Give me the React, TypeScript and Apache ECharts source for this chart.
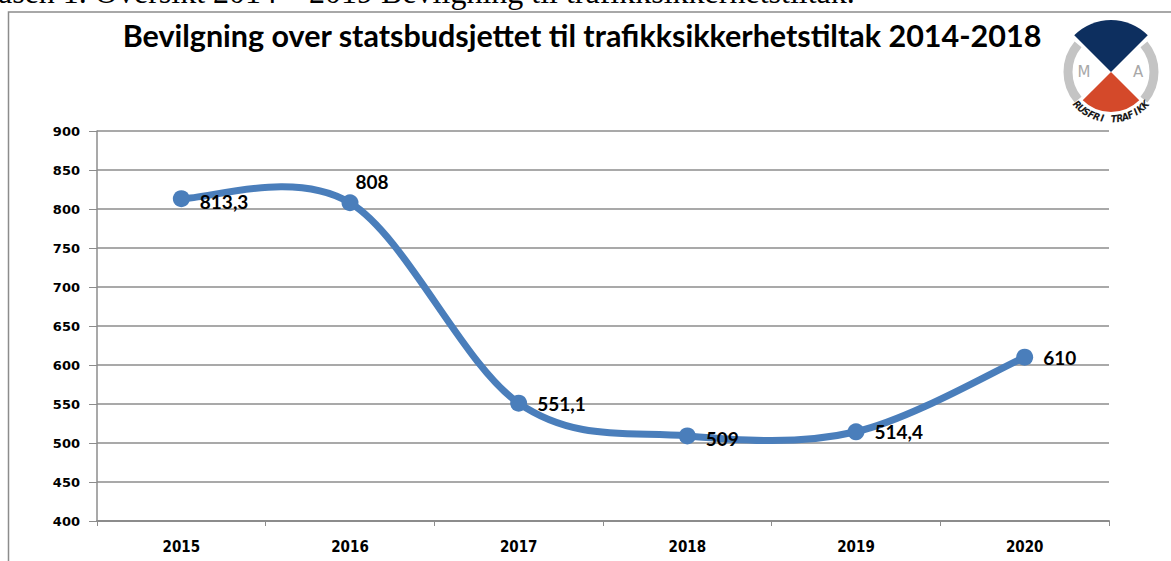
import React, { useEffect, useRef } from "react";
import * as echarts from "echarts";

const years = ["2015", "2016", "2017", "2018", "2019", "2020"];
const values = [813.3, 808, 551.1, 509, 514.4, 610];
const yTicks = { min: 400, max: 900, interval: 50 };
const titleText = "Bevilgning over statsbudsjettet til trafikksikkerhetstiltak 2014-2018";
const captionText = "asen 1. Oversikt 2014 – 2019 Bevilgning til trafikksikkerhetstiltak.";
const logoText = "RUSFRI TRAFIKK";

const LINE_COLOR = "#4a7ebb";

export default function App() {
  const ref = useRef<HTMLDivElement>(null);
  useEffect(() => {
    document.body.style.margin = "0";
    if (!ref.current) return;
    const chart = echarts.init(ref.current, undefined, { renderer: "svg" });

    const cx = 1111, cy = 72;
    const letters: any[] = [];
    const chars = logoText.split("");
    const a0 = 136, a1 = 44;
    chars.forEach((ch, i) => {
      const deg = a0 + (a1 - a0) * (i / (chars.length - 1));
      const t = (deg * Math.PI) / 180;
      const r = 47;
      letters.push({
        type: "text",
        x: cx + r * Math.cos(t),
        y: cy + r * Math.sin(t),
        rotation: -((deg - 90) * Math.PI) / 180,
        style: {
          text: ch,
          fill: "#1a1a1a",
          font: "italic bold 10px 'DejaVu Sans Condensed', 'DejaVu Sans'",
          align: "center",
          verticalAlign: "middle",
        },
        z: 20,
      });
    });

    const dataItems = values.map((v, i) => {
      if (i === 1) {
        return {
          value: v,
          label: { position: "top", offset: [22, 2], distance: 5 },
        };
      }
      if (i === 0 || i === 3) {
        return { value: v, label: { offset: [0, 3] } };
      }
      return { value: v };
    });

    const n = values.length;
    const renderCurve = (params: any, api: any) => {
      const i = params.dataIndex;
      if (i >= n - 1) return null;
      const p = (k: number) => {
        const kk = Math.max(0, Math.min(n - 1, k));
        return api.coord([kk, values[kk]]);
      };
      const P0 = p(i - 1), P1 = p(i), P2 = p(i + 1), P3 = p(i + 2);
      const cp1 = [P1[0] + (P2[0] - P0[0]) / 6, P1[1] + (P2[1] - P0[1]) / 6];
      const cp2 = [P2[0] - (P3[0] - P1[0]) / 6, P2[1] - (P3[1] - P1[1]) / 6];
      return {
        type: "bezierCurve",
        shape: {
          x1: P1[0], y1: P1[1], x2: P2[0], y2: P2[1],
          cpx1: cp1[0], cpy1: cp1[1], cpx2: cp2[0], cpy2: cp2[1],
        },
        style: { stroke: LINE_COLOR, lineWidth: 7, fill: "none", lineCap: "round" },
      };
    };

    chart.setOption({
      animation: false,
      backgroundColor: "#fff",
      grid: { left: 97, right: 62, top: 131, bottom: 40 },
      xAxis: {
        type: "category",
        data: years,
        boundaryGap: true,
        axisLine: { lineStyle: { color: "#8c8c8c", width: 2 } },
        axisTick: { show: true, length: 5, lineStyle: { color: "#8c8c8c", width: 1 } },
        axisLabel: {
          color: "#000",
          fontFamily: "'DejaVu Sans Condensed', 'DejaVu Sans'",
          fontWeight: "bold",
          fontSize: 15,
          margin: 18,
        },
      },
      yAxis: {
        type: "value",
        min: yTicks.min,
        max: yTicks.max,
        interval: yTicks.interval,
        axisLine: { show: true, lineStyle: { color: "#8c8c8c", width: 1.5 } },
        axisTick: { show: true, length: 8, lineStyle: { color: "#8c8c8c", width: 1 } },
        axisLabel: {
          color: "#000",
          fontFamily: "'DejaVu Sans'",
          fontWeight: "bold",
          fontSize: 13,
          margin: 17,
        },
        splitLine: { lineStyle: { color: "#8c8c8c", width: 1.5 } },
      },
      series: [
        {
          type: "custom",
          data: values.map((v, i) => [i, v]),
          encode: { x: 0, y: 1 },
          renderItem: renderCurve,
          silent: true,
          z: 3,
        },
        {
          type: "line",
          data: dataItems,
          symbol: "circle",
          symbolSize: 17,
          lineStyle: { color: LINE_COLOR, width: 0, opacity: 0 },
          itemStyle: { color: LINE_COLOR },
          label: {
            show: true,
            position: "right",
            distance: 10,
            color: "#000",
            fontFamily: "Lato",
            fontWeight: "bold",
            fontSize: 19,
            formatter: (p: any) => String(p.value).replace(".", ","),
          },
          z: 5,
        },
      ],
      graphic: [
        {
          type: "rect",
          shape: { x: 8.5, y: 12, width: 1200, height: 600 },
          style: { fill: "none", stroke: "#8c8c8c", lineWidth: 1.5 },
          z: 1,
        },
        {
          type: "text",
          x: -2,
          y: 8,
          style: {
            text: captionText,
            fill: "#000",
            font: "32px 'Liberation Serif'",
            align: "left",
            verticalAlign: "bottom",
          },
          z: 20,
        },
        {
          type: "text",
          x: 582,
          y: 35,
          style: {
            text: titleText,
            fill: "#000",
            font: "bold 30.5px Lato",
            align: "center",
            verticalAlign: "middle",
          },
          z: 20,
        },
        {
          type: "arc",
          shape: { cx, cy, r: 43, startAngle: (140 * Math.PI) / 180, endAngle: (220 * Math.PI) / 180 },
          style: { stroke: "#c4c4c4", lineWidth: 9, fill: "none" },
          z: 18,
        },
        {
          type: "arc",
          shape: { cx, cy, r: 43, startAngle: (-40 * Math.PI) / 180, endAngle: (40 * Math.PI) / 180 },
          style: { stroke: "#c4c4c4", lineWidth: 9, fill: "none" },
          z: 18,
        },
        {
          type: "sector",
          shape: { cx, cy, r0: 0, r: 52, startAngle: (-135 * Math.PI) / 180, endAngle: (-45 * Math.PI) / 180 },
          style: { fill: "#0d2f5f" },
          z: 19,
        },
        {
          type: "sector",
          shape: { cx, cy, r0: 0, r: 40, startAngle: (45 * Math.PI) / 180, endAngle: (135 * Math.PI) / 180 },
          style: { fill: "#d4492a" },
          z: 19,
        },
        {
          type: "text",
          x: 1084,
          y: 72,
          style: { text: "M", fill: "#a8a8a8", font: "15px 'DejaVu Sans'", align: "center", verticalAlign: "middle" },
          z: 20,
        },
        {
          type: "text",
          x: 1138,
          y: 72,
          style: { text: "A", fill: "#a8a8a8", font: "15px 'DejaVu Sans'", align: "center", verticalAlign: "middle" },
          z: 20,
        },
        ...letters,
      ],
    });
    return () => chart.dispose();
  }, []);
  return <div ref={ref} style={{ width: 1171, height: 561 }} />;
}
